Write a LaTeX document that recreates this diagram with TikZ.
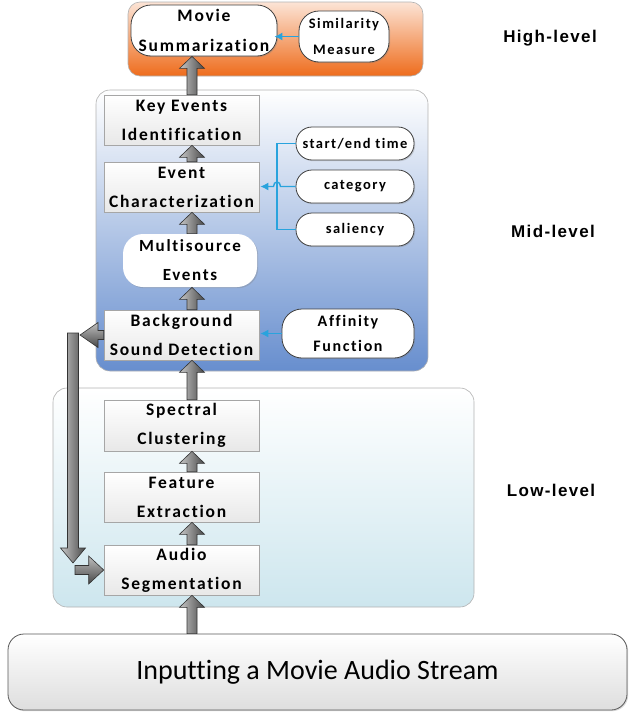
\documentclass[tikz,border=0pt]{standalone}
\usepackage{fontspec}
\setmainfont{Carlito}[RawFeature={-liga;-clig;-calt;-dlig}]
\newfontfamily\bxfont[LetterSpace=10,Ligatures=NoCommon]{Carlito}
\newfontfamily\lvfont[LetterSpace=8]{Liberation Sans}
\usetikzlibrary{shapes.misc,shadows,calc,arrows.meta}
\definecolor{cblue}{RGB}{41,163,221}
\definecolor{orgtop}{RGB}{252,228,214}
\definecolor{orgbot}{RGB}{238,108,28}
\definecolor{midbot}{RGB}{103,142,206}
\definecolor{lowbot}{RGB}{205,230,238}
\tikzset{
  grp/.style={draw=black!30, line width=0.6pt},
  procbox/.style={draw=black!35, line width=0.6pt, top color=white, bottom color=black!9,
    minimum width=155pt, minimum height=50pt, inner sep=0pt, align=center,
    font=\bxfont\bfseries\fontsize{17.5}{29}\selectfont,
    drop shadow={shadow xshift=1.2pt, shadow yshift=-1.2pt, opacity=0.3}},
  pill/.style={draw=black!75, line width=0.8pt, fill=white, inner sep=0pt, align=center,
    drop shadow={shadow xshift=1.2pt, shadow yshift=-1.2pt, opacity=0.3}},
  bigpill/.style={pill, rounded corners=20pt, font=\bxfont\bfseries\fontsize{17}{29}\selectfont},
  smallpill/.style={pill, rounded corners=16pt, minimum width=118pt, minimum height=33pt,
    font=\bxfont\bfseries\fontsize{14.5}{26}\selectfont},
  conn/.style={cblue, line width=1.4pt},
  blk/.style={draw=black!80, line width=0.6pt, left color=black!22, right color=black!72},
  blkh/.style={draw=black!80, line width=0.6pt, top color=black!25, bottom color=black!72},
  lvl/.style={font=\lvfont\bfseries\fontsize{17}{20}\selectfont},
}
\newcommand\blkup[2]{\path[blk] let \p1=(#1),\p2=(#2) in
  (\x1-5pt,\y1) -- (\x1-5pt,\y2-12pt) -- (\x1-12.5pt,\y2-12pt) -- (\x1,\y2)
  -- (\x1+12.5pt,\y2-12pt) -- (\x1+5pt,\y2-12pt) -- (\x1+5pt,\y1) -- cycle;}
\newcommand\blkdown[2]{\path[blk] let \p1=(#1),\p2=(#2) in
  (\x1-5.5pt,\y1) -- (\x1-5.5pt,\y2+15pt) -- (\x1-12.5pt,\y2+15pt) -- (\x1,\y2)
  -- (\x1+12.5pt,\y2+15pt) -- (\x1+5.5pt,\y2+15pt) -- (\x1+5.5pt,\y1) -- cycle;}
\newcommand\blkright[2]{\path[blkh] let \p1=(#1),\p2=(#2) in
  (\x1,\y2+4.5pt) -- (\x2-15pt,\y2+4.5pt) -- (\x2-15pt,\y2+14pt) -- (\x2,\y2)
  -- (\x2-15pt,\y2-14pt) -- (\x2-15pt,\y2-4.5pt) -- (\x1,\y2-4.5pt) -- cycle;}
\newcommand\blkleft[2]{\path[blkh] let \p1=(#1),\p2=(#2) in
  (\x1,\y2+4.5pt) -- (\x2+18pt,\y2+4.5pt) -- (\x2+18pt,\y2+12.5pt) -- (\x2,\y2)
  -- (\x2+18pt,\y2-12.5pt) -- (\x2+18pt,\y2-4.5pt) -- (\x1,\y2-4.5pt) -- cycle;}
\begin{document}
\begin{tikzpicture}[x=1pt,y=-1pt]
\useasboundingbox (0,0) rectangle (629,715);
% group panels
\draw[grp, rounded corners=12pt, top color=orgtop, bottom color=orgbot] (128,2) rectangle (423,76);
\draw[grp, rounded corners=14pt, top color=white, bottom color=midbot] (96,90) rectangle (428,371);
\draw[grp, rounded corners=14pt, top color=white, bottom color=lowbot] (53,388) rectangle (474,607);
% level labels
\node[lvl] (hl) at (550,38) {High-level};
\node[lvl] (ml) at (553,231) {Mid-level};
\node[lvl] (ll) at (551,490) {Low-level};
% nodes
\node[bigpill, minimum width=146pt, minimum height=51pt, font=\bxfont\bfseries\fontsize{17.5}{30}\selectfont] (mov) at (204,30.5) {Movie\\Summarization};
\node[pill, rounded corners=20pt, minimum width=90pt, minimum height=51pt, font=\bxfont\bfseries\fontsize{14.5}{26}\selectfont] (sim) at (344,36.5) {Similarity\\Measure};
\node[procbox] (key) at (181.5,120) {Key Events\\Identification};
\node[procbox] (evc) at (181.5,187) {Event\\Characterization};
\node[bigpill, minimum width=134pt, minimum height=53pt, draw=none] (mul) at (190,260.5) {Multisource\\Events};
\node[procbox] (bgd) at (181.5,335) {Background\\Sound Detection};
\node[smallpill] (set) at (355,143.5) {start/end time};
\node[smallpill] (cat) at (355,186.5) {category};
\node[smallpill] (sal) at (355,229.5) {saliency};
\node[bigpill, minimum width=132pt, minimum height=49pt, font=\bxfont\bfseries\fontsize{16}{25}\selectfont] (aff) at (348,333.5) {Affinity\\Function};
\node[procbox, minimum height=51pt] (spc) at (181.5,425.5) {Spectral\\Clustering};
\node[procbox] (fea) at (181.5,497) {Feature\\Extraction};
\node[procbox] (seg) at (181.5,570) {Audio\\Segmentation};
\node[draw=black!65, line width=0.8pt, rounded corners=16pt, top color=white, bottom color=black!13,
  minimum width=619pt, minimum height=76pt, inner sep=0pt, font=\fontsize{28}{32}\selectfont,
  drop shadow={shadow xshift=1.2pt, shadow yshift=-1.2pt, opacity=0.3}] (inp) at (317.5,672) {Inputting a Movie Audio Stream};
% blue connectors
\coordinate (bj) at (277,0);
\draw[conn] (set.west) -- (set.west -| bj) -- (sal.west -| bj) -- (sal.west);
\draw[conn, -{Latex[length=8pt,width=8pt]}] (cat.west) -- ([xshift=3.5pt]cat.west -| bj)
  .. controls ([xshift=3.5pt,yshift=6pt]cat.west -| bj) and ([xshift=-3.5pt,yshift=6pt]cat.west -| bj) .. ([xshift=-3.5pt]cat.west -| bj)
  -- ([xshift=1pt]cat.west -| evc.east);
\draw[conn, -{Latex[length=8pt,width=8pt]}] (aff.west) -- ([xshift=1pt]aff.west -| bgd.east);
\draw[conn, -{Latex[length=8pt,width=8pt]}] (sim.west) -- ([xshift=-3pt]sim.west -| mov.east);
% gray block arrows
\coordinate (ax) at (192,0);
\blkup{inp.north -| ax}{seg.south -| ax}
\blkup{seg.north -| ax}{fea.south -| ax}
\blkup{fea.north -| ax}{spc.south -| ax}
\blkup{spc.north -| ax}{bgd.south -| ax}
\blkup{bgd.north -| ax}{mul.south -| ax}
\blkup{mul.north -| ax}{evc.south -| ax}
\blkup{evc.north -| ax}{key.south -| ax}
\blkup{key.north -| ax}{mov.south -| ax}
% feedback loop
\coordinate (fbtop) at (73,333);
\coordinate (fbbot) at (73,563);
\coordinate (fbtip) at (80,337);
\coordinate (fbstart) at (75,570);
\blkdown{fbtop}{fbbot}
\blkleft{bgd.west}{fbtip |- bgd.west}
\blkright{fbstart}{seg.west}
\end{tikzpicture}
\end{document}
